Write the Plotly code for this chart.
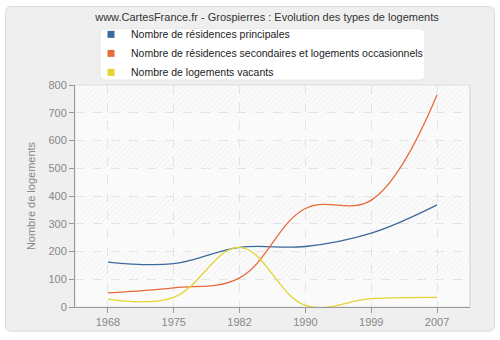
import plotly.graph_objects as go

years = ["1968", "1975", "1982", "1990", "1999", "2007"]
principales = [162, 156, 215, 218, 266, 368]
secondaires = [51, 69, 105, 355, 385, 765]
vacants = [28, 35, 215, 6, 30, 35]

series_names = [
    "Nombre de résidences principales",
    "Nombre de résidences secondaires et logements occasionnels",
    "Nombre de logements vacants",
]
series_colors = ["#3d6a9c", "#e8693a", "#e2d532"]
y_ticks = [0, 100, 200, 300, 400, 500, 600, 700, 800]

W, H = 500, 340
L, R, T, B = 75, 30, 85, 30
pw, ph = W - L - R, H - T - B
FONT = "Liberation Sans"


def px2paper(x, y):
    return (x - L) / pw, (H - B - y) / ph


fig = go.Figure()

# background bands (hatched alternating), one bar per category cell
for b0, b1 in zip(y_ticks[:-1], y_ticks[1:]):
    hatched = (b0 // 100) % 2 == 1
    fig.add_trace(go.Bar(
        x=years, y=[b1 - b0] * len(years), base=[b0] * len(years), width=1,
        marker=dict(color="rgba(0,0,0,0)", line=dict(width=0),
                    pattern=dict(shape="/", size=4, solidity=0.25,
                                 fgcolor="#e8e8e8" if hatched else "#f2f2f2",
                                 bgcolor="rgba(0,0,0,0)")),
        showlegend=False, hoverinfo="skip",
    ))

for name, vals, col in zip(series_names, [principales, secondaires, vacants], series_colors):
    fig.add_trace(go.Scatter(
        x=years, y=vals, mode="lines", name=name,
        line=dict(color=col, width=1.3, shape="spline", smoothing=1.1),
        showlegend=False,
    ))

for name, col in zip(series_names, series_colors):
    fig.add_trace(go.Scatter(
        x=[years[0]], y=[None], mode="markers", name=name,
        marker=dict(symbol="square", size=7, color=col),
    ))


def rounded(x0p, y0p, x1p, y1p, rad):
    a0, b0 = px2paper(x0p, y1p)
    a1, b1 = px2paper(x1p, y0p)
    rx, ry = rad / pw, rad / ph
    return (f"M {a0+rx:.5f},{b1:.5f} L {a1-rx:.5f},{b1:.5f} Q {a1:.5f},{b1:.5f} {a1:.5f},{b1-ry:.5f} "
            f"L {a1:.5f},{b0+ry:.5f} Q {a1:.5f},{b0:.5f} {a1-rx:.5f},{b0:.5f} L {a0+rx:.5f},{b0:.5f} "
            f"Q {a0:.5f},{b0:.5f} {a0:.5f},{b0+ry:.5f} L {a0:.5f},{b1-ry:.5f} Q {a0:.5f},{b1:.5f} {a0+rx:.5f},{b1:.5f} Z")


shapes = [
    dict(type="path", xref="paper", yref="paper",
         path=rounded(5.5, 5.5, 494.5, 334.5, 6) + " M 0,0 L 1,0 L 1,1 L 0,1 Z",
         fillcolor="#efefef", line=dict(color="#dcdcdc", width=1), layer="below"),
    dict(type="path", xref="paper", yref="paper", path=rounded(100, 28, 425, 80, 6),
         fillcolor="white", line=dict(color="#e6e6e6", width=1), layer="below"),
    # light right border of the plot area
    dict(type="line", xref="paper", yref="paper", x0=1, x1=1, y0=0, y1=1,
         line=dict(color="#dddddd", width=1), layer="above"),
]

lgx, lgy = px2paper(91, 19)

fig.update_layout(
    width=W, height=H,
    margin=dict(l=L, r=R, t=T, b=B),
    paper_bgcolor="white",
    plot_bgcolor="#fbfbfb",
    font=dict(family=FONT, size=11, color="#555"),
    title=dict(text="www.CartesFrance.fr - Grospierres : Evolution des types de logements",
               x=267 / W, xanchor="center", xref="container",
               y=1 - 17 / H, yanchor="middle", yref="container",
               font=dict(family=FONT, size=11, color="#333")),
    barmode="overlay",
    bargap=0,
    shapes=shapes,
    showlegend=True,
    legend=dict(x=lgx, xanchor="left", y=lgy, yanchor="top",
                bgcolor="rgba(0,0,0,0)", borderwidth=0,
                font=dict(family=FONT, size=10.5, color="#222"),
                tracegroupgap=0),
    xaxis=dict(type="category", range=[-0.5, 5.5],
               showgrid=True, gridcolor="#e2e2e2", griddash="dash", gridwidth=1,
               showline=True, linecolor="#999", linewidth=1,
               ticks="outside", ticklen=5, tickcolor="#999",
               tickfont=dict(color="#888", size=11), zeroline=False),
    yaxis=dict(range=[0, 800], tickmode="array", tickvals=y_ticks,
               showgrid=True, gridcolor="#e2e2e2", griddash="dash", gridwidth=1,
               showline=True, linecolor="#999", linewidth=1,
               ticks="outside", ticklen=5, tickcolor="#999",
               tickfont=dict(color="#888", size=11), zeroline=False,
               title=dict(text="Nombre de logements", font=dict(color="#888", size=11),
                          standoff=10)),
)

fig.write_html("out.html")
